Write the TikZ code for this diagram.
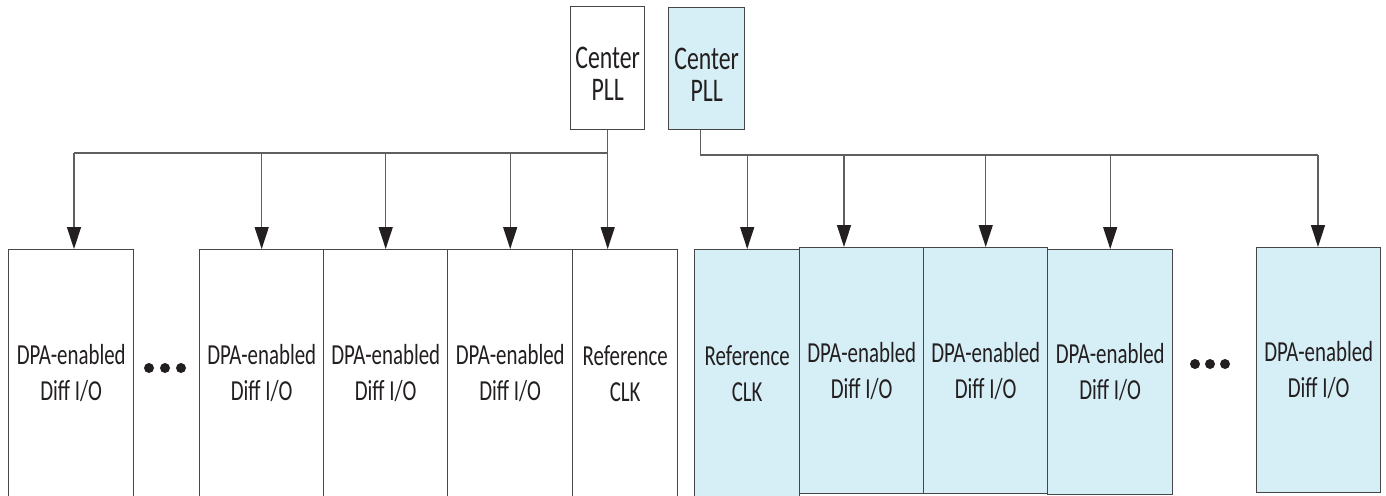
\documentclass[tikz,border=0pt]{standalone}
\usepackage{fontspec}
\usepackage{tikz}
\usetikzlibrary{arrows.meta}
\newfontfamily\diagfont{Carlito}[FakeStretch=0.72]
\definecolor{PllBlue}{RGB}{214,238,245}
\definecolor{EdgeGray}{RGB}{70,70,70}
\definecolor{WireGray}{RGB}{95,95,95}
\definecolor{TextBlack}{RGB}{35,31,32}

\begin{document}
\begin{tikzpicture}[x=0.5pt, y=-0.5pt,
    blk/.style={draw=EdgeGray, line width=0.7pt, inner sep=0pt, anchor=north west,
      align=center, text=TextBlack, font=\diagfont\fontsize{14.5}{18}\selectfont},
    iobox/.style={blk, fill=white},
    bluebox/.style={blk, fill=PllBlue},
    pllbox/.style={blk, font=\diagfont\fontsize{16.5}{16}\selectfont, text height=32.5pt, text depth=0pt},
    wire/.style={draw=WireGray, line width=0.7pt},
    arr/.style={wire, -{Triangle[length=11pt, width=7pt, color=TextBlack]}}]
  \useasboundingbox (0,0) rectangle (1386,495);
  \clip (0,0) rectangle (1386,495);

  % center PLLs
  \node[pllbox, fill=white, minimum width=37pt, minimum height=61.5pt] (pllL) at (570,6) {Center\\PLL};
  \node[pllbox, fill=PllBlue, minimum width=38pt, minimum height=61pt] (pllR) at (668,7) {Center\\PLL};

  % left bank
  \node[iobox, minimum width=62.5pt, minimum height=123.5pt] (dpa1) at (8,249) {DPA-enabled\\Diff I/O};
  \node[iobox, minimum width=62pt, minimum height=123.5pt] (dpa2) at (199,249) {DPA-enabled\\Diff I/O};
  \node[iobox, minimum width=62pt, minimum height=123.5pt] (dpa3) at (323,249) {DPA-enabled\\Diff I/O};
  \node[iobox, minimum width=62.5pt, minimum height=123.5pt] (dpa4) at (447,249) {DPA-enabled\\Diff I/O};
  \node[iobox, minimum width=52.5pt, minimum height=123.5pt] (refL) at (572,249) {Reference\\CLK};

  % right bank
  \node[bluebox, minimum width=52.5pt, minimum height=123.5pt] (refR) at (694,249) {Reference\\CLK};
  \node[bluebox, minimum width=62pt, minimum height=123pt] (dpa5) at (799,247) {DPA-enabled\\Diff I/O};
  \node[bluebox, minimum width=62pt, minimum height=123pt] (dpa6) at (923,247) {DPA-enabled\\Diff I/O};
  \node[bluebox, minimum width=62.5pt, minimum height=122.5pt] (dpa7) at (1047,249) {DPA-enabled\\Diff I/O};
  \node[bluebox, minimum width=62pt, minimum height=122.5pt] (dpa8) at (1256,247) {DPA-enabled\\Diff I/O};

  % ellipses
  \foreach \x in {149,165,181} \fill[TextBlack] (\x,368) circle (2.5pt);
  \foreach \x in {1195,1210,1225} \fill[TextBlack] (\x,364) circle (2.5pt);

  % left clock tree
  \coordinate (busL) at (74,153);
  \draw[wire] (pllL.south) |- (busL);
  \draw[arr] (busL) -- (busL |- dpa1.north);
  \draw[arr] (dpa2.north |- busL) -- (dpa2.north);
  \draw[arr] (dpa3.north |- busL) -- (dpa3.north);
  \draw[arr] (dpa4.north |- busL) -- (dpa4.north);
  \draw[arr] (pllL.south) -- (pllL.south |- refL.north);

  % right clock tree
  \coordinate (busR) at (1318,155);
  \coordinate (tap5) at (844,155);
  \draw[wire] ([xshift=-3pt]pllR.south) |- (busR);
  \draw[arr] (refR.north |- busR) -- (refR.north);
  \draw[arr] (tap5) -- (tap5 |- dpa5.north);
  \draw[arr] (dpa6.north |- busR) -- (dpa6.north);
  \draw[arr] (dpa7.north |- busR) -- (dpa7.north);
  \draw[arr] (busR) -- (busR |- dpa8.north);
\end{tikzpicture}
\end{document}
